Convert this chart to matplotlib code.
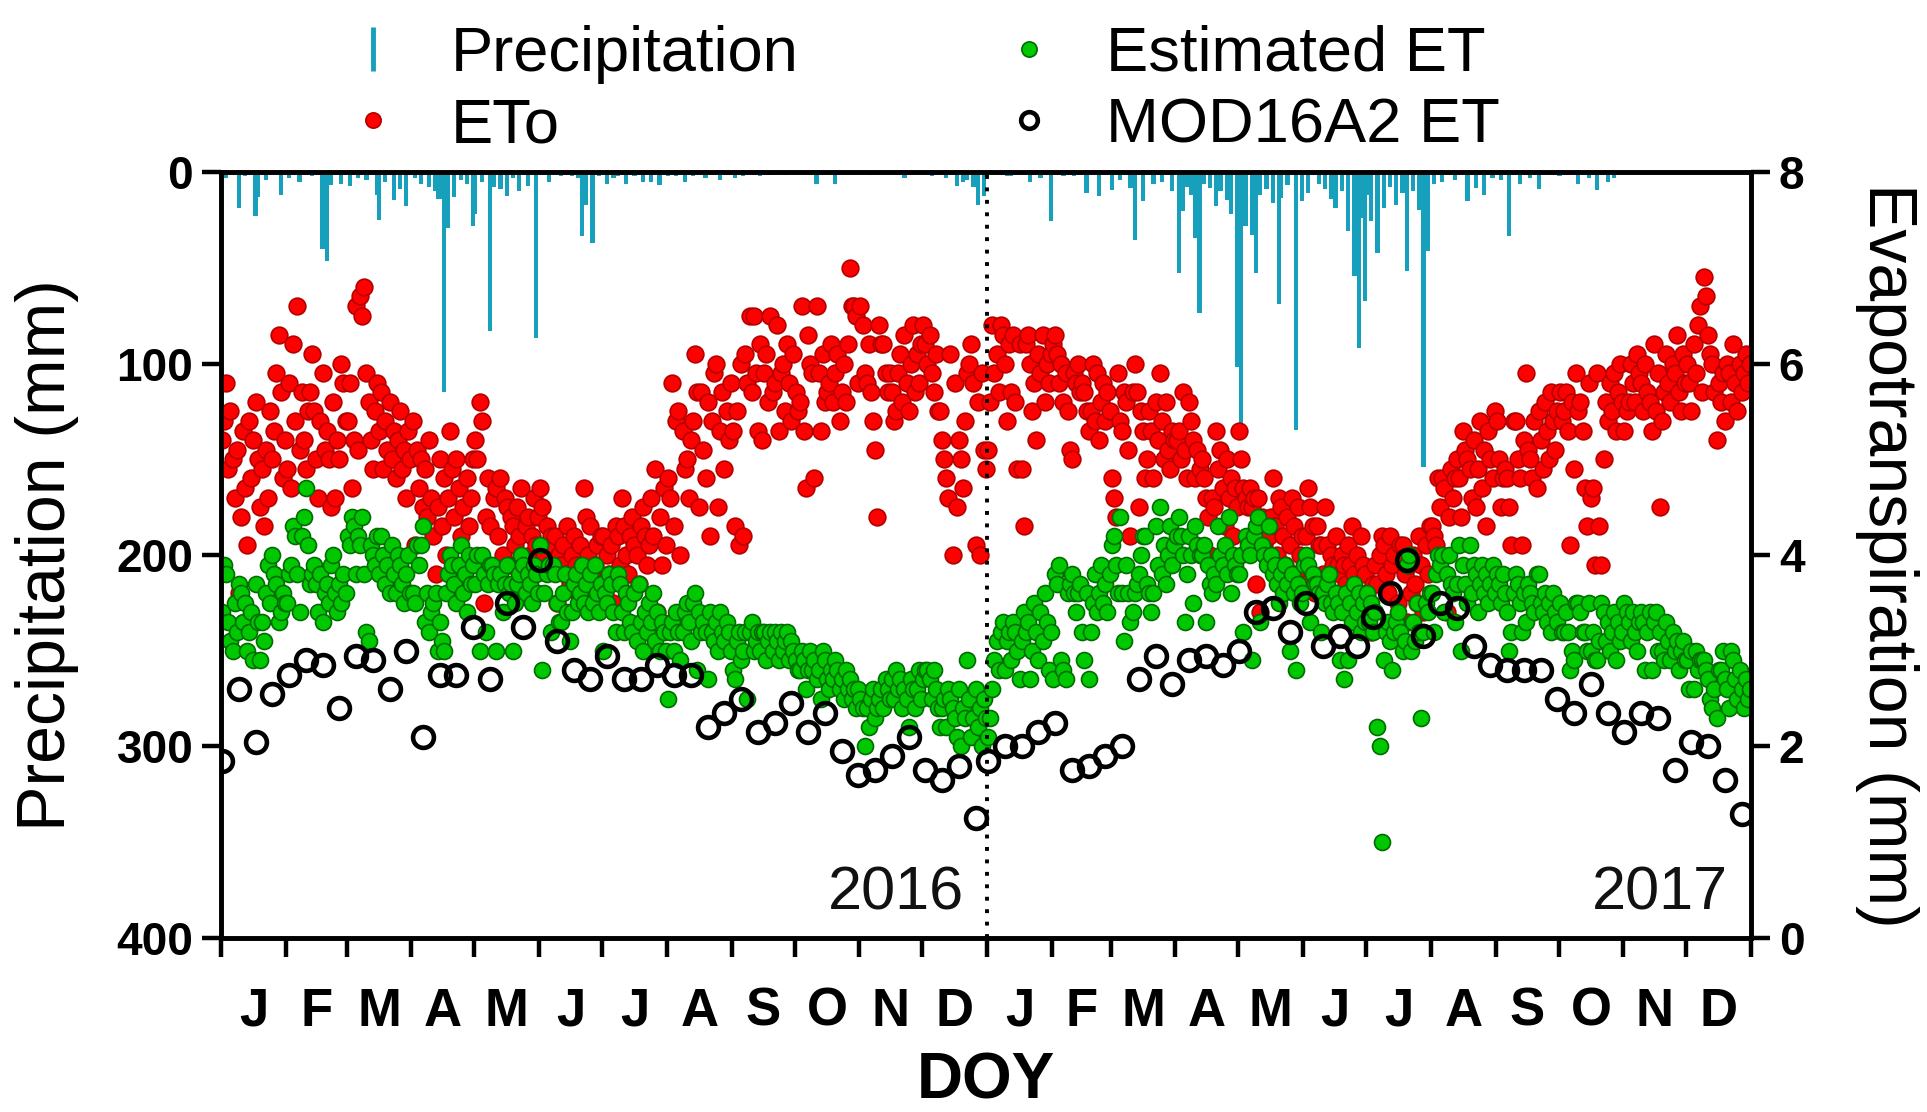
import numpy as np
import matplotlib
matplotlib.use("Agg")
import matplotlib.pyplot as plt
from matplotlib.lines import Line2D

plt.rcParams['font.family'] = ['Liberation Sans', 'DejaVu Sans']

# Reference evapotranspiration ETo (mm/day), one value per day
eto_2016 = [
    5.2,5.4,5.8,4.9,5.5,5.0,4.6,5.1,3.6,4.4,5.3,4.7,4.1,5.4,4.8,5.2,5.6,5.0,4.5,4.9,4.3,5.1,4.6,5.5,5.0,5.3,5.9,6.3,5.7,4.8,5.2,
    4.9,5.8,4.7,6.2,5.4,6.6,5.1,5.7,5.2,4.9,5.5,5.7,6.1,5.5,5.0,4.6,5.4,5.9,5.1,5.3,5.0,4.5,5.6,4.6,5.2,5.0,6.0,5.8,5.4,
    5.4,5.8,4.7,5.2,6.6,5.1,6.7,6.5,6.8,5.9,5.6,5.2,4.9,5.5,5.8,5.3,5.7,4.9,5.4,5.1,5.6,5.0,5.3,4.8,5.2,5.5,4.9,5.1,4.6,5.3,5.0,
    5.4,4.1,5.1,4.7,5.0,4.5,4.9,4.4,5.2,4.6,4.2,3.8,4.5,5.0,4.3,4.8,4.0,4.6,5.3,4.9,4.4,5.0,4.7,4.2,4.5,3.9,4.8,4.3,4.6,5.0,
    5.2,5.0,5.6,5.4,3.5,4.4,4.8,4.3,3.8,4.6,4.7,4.2,4.8,4.0,4.6,4.5,3.9,4.4,4.3,4.1,4.5,4.2,4.7,3.9,4.3,4.4,4.0,4.2,4.6,4.1,4.4,
    4.7,4.5,4.0,4.3,3.9,4.2,4.1,4.2,3.5,4.0,3.9,4.1,3.8,4.3,3.7,4.0,4.2,3.9,3.6,4.1,3.8,4.7,4.4,4.0,4.3,3.7,3.9,4.1,3.8,4.2,
    4.2,3.6,4.0,3.8,4.1,3.5,4.3,4.2,3.9,4.6,4.3,4.0,3.8,4.2,4.4,4.1,4.0,3.7,4.3,4.5,4.2,3.9,4.1,4.6,4.2,4.9,3.4,4.4,3.9,4.7,4.1,
    4.8,4.6,5.8,4.3,5.4,5.5,4.0,5.3,4.9,5.0,4.6,5.2,5.4,6.1,5.7,4.5,5.7,5.1,4.8,5.6,4.2,5.4,5.9,6.0,4.5,5.3,5.7,4.9,5.5,5.2,5.8,
    5.3,4.3,5.5,4.1,6.0,4.2,6.1,5.8,6.5,5.7,6.5,5.9,5.3,6.2,5.2,5.9,6.1,5.6,6.5,5.7,5.8,6.4,5.3,5.9,6.0,5.5,6.2,5.8,5.4,6.1,
    5.7,5.5,5.6,6.6,5.3,4.7,6.3,6.0,5.9,4.8,6.6,5.9,5.3,6.1,5.6,5.7,5.8,6.2,5.6,5.9,6.1,5.4,5.7,6.0,5.6,6.2,7.0,6.6,6.6,6.5,5.8,
    6.6,6.4,5.9,5.8,6.2,5.7,5.4,5.1,4.4,6.4,6.2,6.2,5.9,5.7,5.9,5.7,5.4,5.5,5.9,6.1,5.6,6.3,5.8,5.5,6.0,6.4,5.7,6.1,5.8,6.2,
    6.4,6.2,6.0,6.3,5.9,5.7,6.1,5.5,5.5,5.2,5.0,4.8,4.6,6.1,4.0,5.8,4.5,5.2,5.0,4.7,5.4,5.9,6.0,6.2,5.8,4.1,5.6,4.0,5.9,5.1,4.9,
]
eto_2017 = [
    5.1,5.6,6.4,5.9,6.1,5.7,6.4,6.3,6.0,5.4,6.2,5.7,6.3,5.6,4.9,6.2,4.9,4.3,6.2,6.3,6.0,5.5,5.8,5.2,6.1,5.9,6.3,5.6,6.0,5.8,6.1,
    6.2,6.3,6.1,5.8,6.0,5.6,5.9,5.5,5.1,5.0,5.9,5.8,6.0,5.7,5.8,5.7,5.5,5.3,5.5,6.0,5.4,5.9,5.2,5.6,5.8,5.4,5.7,5.5,
    4.8,4.6,4.4,5.9,5.4,5.3,5.7,5.6,5.1,4.2,5.7,6.0,5.7,4.5,5.5,5.3,4.8,5.0,5.5,5.3,4.8,5.6,5.2,5.9,5.4,5.0,5.6,5.1,4.9,5.3,5.2,
    5.2,5.3,5.0,5.7,5.1,4.8,5.6,5.4,5.2,4.8,5.1,4.9,5.0,4.8,4.6,4.4,4.0,4.6,4.5,5.3,4.9,5.1,4.7,4.3,5.0,4.6,4.8,4.2,4.7,4.5,
    5.3,5.0,4.7,4.6,4.5,4.7,4.5,4.6,3.7,4.6,3.4,4.4,4.1,4.2,4.2,4.4,4.8,4.3,4.0,4.6,4.5,4.2,3.9,4.4,4.1,4.6,4.3,3.8,4.5,4.0,4.2,
    3.7,4.2,4.7,4.5,4.3,3.6,4.3,4.1,4.1,3.8,4.5,4.1,3.5,4.0,3.9,4.2,3.9,3.8,4.0,3.9,3.7,4.1,3.9,4.3,3.8,4.0,3.6,4.2,3.9,3.8,
    3.6,3.4,3.2,3.7,3.9,3.7,4.0,4.2,4.1,3.8,3.6,4.2,3.9,4.0,3.2,3.5,4.1,4.1,3.8,3.3,3.9,3.6,4.0,3.7,3.5,4.2,3.9,3.4,4.1,3.8,4.3,
    4.3,4.2,4.1,4.8,4.5,4.8,4.7,3.4,4.4,4.9,4.6,4.8,5.0,4.8,4.4,5.3,5.1,5.0,4.9,4.6,5.2,4.5,4.9,5.4,4.7,5.1,4.3,5.3,5.0,4.8,5.5,
    5.4,5.0,4.5,4.8,4.9,4.8,4.5,4.1,5.4,5.4,5.0,4.8,4.1,5.2,5.9,5.1,5.0,4.8,5.4,4.7,5.5,5.2,4.9,5.6,5.3,5.0,5.7,5.4,5.1,5.5,
    5.7,5.4,5.5,5.7,5.3,4.1,5.6,4.9,5.9,5.5,5.6,5.3,4.7,4.3,5.8,4.6,4.7,3.9,5.9,4.3,3.9,5.0,5.6,5.4,5.8,5.5,5.9,5.3,5.7,6.0,5.6,
    5.3,5.5,5.6,6.0,5.8,5.6,6.1,5.9,5.8,5.5,6.0,5.7,5.6,5.3,6.2,5.5,5.9,4.5,5.4,5.7,6.1,5.8,5.6,6.0,5.9,6.3,5.7,5.5,6.1,5.8,
    6.0,5.8,5.5,6.2,5.9,6.4,6.6,5.7,6.9,6.7,6.3,6.1,6.0,5.7,5.2,5.8,5.6,5.9,5.4,6.0,5.9,5.6,6.2,5.8,5.5,6.0,5.7,5.9,6.1,5.8,6.0,
]

# Estimated actual ET (mm/day), one value per day
et_2016 = [
    3.4,3.9,3.8,3.3,3.1,3.0,3.5,3.2,3.7,3.6,3.3,3.5,3.0,3.2,3.4,2.9,3.7,3.3,2.9,3.3,3.1,3.6,3.9,3.5,4.0,3.8,3.7,3.3,3.4,3.6,3.5,
    3.5,3.8,3.9,4.3,4.2,3.8,3.4,4.2,4.4,4.7,4.1,3.7,3.8,3.9,3.7,3.4,3.8,3.3,3.6,3.7,3.5,3.9,4.0,3.6,3.4,3.7,3.5,3.8,3.6,
    4.2,4.1,4.4,4.3,3.8,4.2,4.1,4.4,3.8,3.2,3.1,4.1,4.0,3.9,4.2,3.8,4.2,4.0,3.7,3.9,3.6,4.1,3.8,3.6,4.0,3.9,3.7,3.5,3.8,4.0,3.6,
    3.6,3.5,4.1,3.9,4.1,4.3,3.3,3.6,3.2,3.4,3.5,3.6,3.0,3.3,3.1,3.0,3.6,3.8,4.0,3.9,3.7,3.5,3.9,4.1,3.6,3.8,3.4,4.0,3.7,3.9,
    3.7,4.0,3.0,4.0,3.8,3.2,3.7,3.9,3.9,3.8,3.0,3.7,3.8,3.4,3.7,3.9,3.6,3.7,3.0,3.5,3.7,3.8,4.0,3.9,3.6,3.8,3.7,3.5,3.9,3.8,3.6,
    4.1,2.8,3.6,3.8,3.9,3.2,3.9,3.8,3.5,3.3,3.3,3.6,3.8,3.4,3.1,3.4,3.7,3.8,3.5,3.6,3.9,3.5,3.7,3.4,3.8,3.5,3.9,3.6,3.4,3.7,
    3.0,3.6,3.5,3.8,3.7,3.4,3.2,3.8,3.7,3.4,3.2,3.6,3.5,3.3,3.2,3.6,3.1,3.7,3.3,3.0,3.4,3.2,3.5,3.3,3.6,3.1,3.4,3.0,3.3,3.2,3.0,
    2.5,3.2,3.3,3.0,3.4,3.2,2.9,3.2,3.4,3.5,3.3,3.1,3.5,3.6,2.8,3.4,3.2,3.3,3.2,2.7,3.4,3.2,3.1,3.3,3.0,3.4,3.2,3.1,3.3,3.2,3.0,
    2.8,2.7,3.1,3.2,2.9,3.0,3.2,2.5,3.2,3.3,3.0,3.1,3.2,3.0,3.2,3.2,2.9,3.1,3.2,3.0,3.2,3.1,2.9,3.2,3.0,3.1,3.2,2.9,3.1,3.0,
    2.9,2.8,2.8,3.0,2.9,2.6,2.8,3.0,2.8,2.9,2.7,2.8,2.5,3.0,2.9,2.7,2.6,2.8,2.7,2.9,2.8,2.6,2.7,2.5,2.8,2.6,2.7,2.5,2.6,2.4,2.6,
    2.5,2.4,2.0,2.4,2.2,2.5,2.6,2.3,2.4,2.5,2.6,2.4,2.7,2.6,2.5,2.7,2.5,2.8,2.6,2.7,2.4,2.6,2.5,2.2,2.7,2.6,2.4,2.6,2.8,2.5,
    2.7,2.8,2.8,2.7,2.5,2.8,2.6,2.4,2.2,2.4,2.5,2.2,2.6,2.5,2.4,2.3,2.1,2.6,2.0,2.4,2.3,2.9,2.5,2.1,2.3,2.6,2.2,2.4,2.0,2.5,2.3,
]
et_2017 = [
    2.1,2.3,2.6,2.9,3.1,2.8,3.2,3.3,2.8,3.1,3.2,2.9,3.3,3.2,3.0,2.7,3.1,3.4,3.2,3.3,2.7,3.0,3.5,3.2,2.9,3.4,3.1,3.6,3.3,2.8,3.2,
    2.7,3.8,3.7,3.9,2.9,2.8,2.7,3.6,3.7,3.8,3.6,3.4,3.6,3.7,3.2,2.9,3.6,2.7,3.2,3.5,3.8,3.4,3.6,3.9,3.5,3.7,3.4,3.8,
    4.1,4.2,3.9,3.6,4.4,3.6,3.1,3.9,3.6,3.3,3.4,3.6,3.7,3.8,4.0,4.2,4.2,3.7,3.6,3.4,3.6,4.3,3.9,4.5,3.8,4.1,3.7,4.0,4.3,3.9,4.1,
    4.2,4.4,4.2,4.0,3.3,3.8,4.2,4.0,3.5,4.3,4.1,4.0,4.0,4.1,3.3,3.9,3.7,3.6,3.8,3.7,4.3,4.0,3.9,4.1,3.8,4.4,3.6,4.0,3.9,3.8,
    3.8,4.0,3.2,4.2,4.1,4.0,2.9,4.2,4.3,4.4,3.3,4.1,4.0,3.9,4.3,4.0,3.8,3.9,3.7,3.5,3.8,3.6,3.9,3.7,3.0,3.8,3.6,2.8,3.7,3.5,3.6,
    3.9,4.0,3.9,3.3,3.8,3.7,3.7,3.6,3.2,3.6,3.5,3.7,3.8,3.5,3.4,3.6,3.5,2.9,3.4,2.7,3.6,2.9,3.5,3.3,3.7,3.4,3.6,3.2,3.5,3.3,
    3.6,3.3,3.5,3.2,3.4,2.2,2.0,1.0,2.9,3.2,3.3,3.1,2.8,3.2,3.3,3.4,3.2,3.0,3.1,3.9,4.0,3.0,3.3,3.1,3.5,3.2,2.3,3.2,3.5,3.4,3.6,
    3.6,3.2,3.8,4.0,3.9,4.0,3.4,3.8,4.0,3.7,3.6,3.3,3.7,4.1,3.0,3.9,3.7,3.5,4.1,3.6,3.9,3.8,3.4,3.7,3.9,3.6,3.8,3.5,3.7,3.9,3.6,
    3.8,3.7,3.5,3.8,3.6,3.4,3.0,3.2,3.6,3.8,3.7,3.5,3.2,3.6,3.3,3.7,3.6,3.5,3.4,3.8,3.8,3.5,3.4,3.6,3.3,3.5,3.2,3.6,3.4,3.3,
    3.5,3.2,3.2,3.4,3.2,2.8,3.0,2.9,3.5,3.5,3.4,3.2,3.2,3.0,3.5,3.0,3.2,2.9,2.9,3.1,3.5,3.4,3.1,3.3,3.0,3.2,3.4,2.9,3.3,3.1,3.2,
    3.5,3.4,3.3,3.1,3.4,3.2,3.0,3.3,3.4,3.3,2.8,3.2,3.4,2.8,3.3,3.4,3.0,3.2,3.0,2.9,3.3,3.1,2.9,3.2,3.0,3.1,2.8,3.0,3.1,2.9,
    2.9,2.6,3.0,2.6,3.0,2.8,2.9,2.9,2.9,2.8,2.7,2.5,2.4,2.6,2.3,2.8,2.8,3.0,2.7,2.6,2.4,3.0,2.9,2.7,2.5,2.8,2.6,2.4,2.7,2.5,2.6,
]

# MOD16A2 8-day composites (start DOY of each period)
mod16_doy = [1, 9, 17, 25, 33, 41, 49, 57, 65, 73, 81, 89, 97, 105, 113, 121,
             129, 137, 145, 153, 161, 169, 177, 185, 193, 201, 209, 217, 225,
             233, 241, 249, 257, 265, 273, 281, 289, 297, 305, 313, 321, 329,
             337, 345, 353, 361]
mod16_2016 = [1.85, 2.6, 2.05, 2.55, 2.75, 2.9, 2.85, 2.4, 2.95, 2.9, 2.6, 3.0,
              2.1, 2.75, 2.75, 3.25, 2.7, 3.5, 3.25, 3.95, 3.1, 2.8, 2.7, 2.95,
              2.7, 2.7, 2.85, 2.75, 2.75, 2.2, 2.35, 2.5, 2.15, 2.25, 2.45, 2.15,
              2.35, 1.95, 1.7, 1.75, 1.9, 2.1, 1.75, 1.65, 1.8, 1.25]
mod16_2017 = [1.85, 2.0, 2.0, 2.15, 2.25, 1.75, 1.8, 1.9, 2.0, 2.7, 2.95, 2.65,
              2.9, 2.95, 2.85, 3.0, 3.4, 3.45, 3.2, 3.5, 3.05, 3.15, 3.05, 3.35,
              3.6, 3.95, 3.15, 3.5, 3.45, 3.05, 2.85, 2.8, 2.8, 2.8, 2.5, 2.35,
              2.65, 2.35, 2.15, 2.35, 2.3, 1.75, 2.05, 2.0, 1.65, 1.3]

# Daily precipitation (DOY, mm), rain days only
rain_2016_doy = [3, 9, 12, 17, 18, 22, 29, 33, 38, 44, 49, 51, 53, 58, 62, 66, 70,
                 75, 76, 79, 83, 86, 89, 93, 96, 100, 103, 104, 105, 106, 107,
                 109, 112, 115, 118, 121, 122, 125, 129, 131, 134, 137, 140, 143,
                 147, 151, 157, 163, 168, 171, 173, 175, 178, 181, 185, 188, 190,
                 194, 198, 202, 206, 210, 214, 218, 222, 226, 232, 239, 246, 250,
                 258, 263, 270, 285, 294, 300, 311, 327, 340, 347, 352, 355, 357,
                 360, 362, 365]
rain_2016_mm = [3, 18.8, 2, 23, 13, 4, 12, 3, 5, 2, 40, 46.6, 7, 6, 7.5, 3, 4,
                12, 25, 5, 14.5, 9, 18, 3, 6, 8, 10, 14, 14, 12, 115,
                29, 13, 4, 6, 28, 22, 5, 83, 8, 9, 12.7, 3, 10,
                7.5, 86.7, 5, 2, 2, 3, 33.6, 17, 37, 2, 6, 3, 2,
                6, 2, 5, 5, 7, 2, 2, 5, 2, 3, 4, 3, 2,
                2.3, 1.5, 1.5, 6, 6, 1.5, 1.5, 3, 2, 3, 7.5, 5, 4,
                8, 17, 12.7]
rain_2017_doy = [10, 12, 21, 26, 31, 37, 42, 48, 54, 60, 64, 69, 71, 75, 80, 84,
                 89, 92, 94, 96, 98, 100, 102, 104, 107, 110, 112, 115, 117, 120,
                 122, 124, 127, 129, 131, 134, 137, 140, 141, 144, 148, 151, 154,
                 159, 162, 165, 167, 170, 173, 176, 178, 179, 181, 182, 184, 187,
                 190, 193, 196, 199, 201, 204, 207, 209, 211, 214, 218, 224, 230,
                 234, 238, 242, 246, 250, 255, 260, 264, 274, 283, 288, 292, 297,
                 300, 314, 334]
rain_2017_mm = [2, 2, 5, 3, 25.8, 2, 2, 11, 12.7, 9.2, 4, 8.4, 35.3, 15, 6, 5,
                10, 52.7, 20.5, 8, 12, 34.5, 73.6, 6, 8.4, 18, 10, 14.5, 22, 102,
                134.8, 28, 32.7, 52.7, 12, 9, 16, 69, 13.6, 7, 134.8, 15, 11,
                6, 9, 14, 18.8, 10, 31, 54.5, 92, 24, 67.5, 12, 25.8, 42.3,
                18.8, 8, 17, 11, 51.8, 10, 20, 154, 41.4, 6, 5, 4, 15,
                8.4, 12, 3, 4, 33.6, 6.5, 3, 9, 2, 6, 3, 9.2, 5,
                3, 1.5, 1.5]

month_letters = ['J', 'F', 'M', 'A', 'M', 'J', 'J', 'A', 'S', 'O', 'N', 'D']
month_len_2016 = [31, 29, 31, 30, 31, 30, 31, 31, 30, 31, 30, 31]
month_len_2017 = [31, 28, 31, 30, 31, 30, 31, 31, 30, 31, 30, 31]

c_rain = '#17a0bc'
c_eto, c_eto_edge = '#ff0000', '#b30000'
c_et, c_et_edge = '#00c800', '#006b00'

# continuous day axis over the two years
n16 = sum(month_len_2016)
days = np.arange(1, n16 + sum(month_len_2017) + 1) - 0.5
eto = np.array(eto_2016 + eto_2017)
et = np.array(et_2016 + et_2017)
mod_x = np.array(mod16_doy + [d + n16 for d in mod16_doy]) - 0.5
mod_v = np.array(mod16_2016 + mod16_2017)
rain_x = np.array(rain_2016_doy + [d + n16 for d in rain_2017_doy]) - 0.5
rain_v = np.array(rain_2016_mm + rain_2017_mm)

fig = plt.figure(figsize=(19.27, 11.12), dpi=100)
ax = fig.add_axes([0.1147, 0.1565, 0.794, 0.6888])
ax2 = ax.twinx()

ax.bar(rain_x, rain_v, width=2.0, color=c_rain, linewidth=0)
ax.set_ylim(400, 0)
ax.set_xlim(0, len(days))

ax2.plot(days, eto, 'o', ms=12, mfc=c_eto, mec=c_eto_edge, mew=1.2, ls='none')
ax2.plot(days, et, 'o', ms=11.5, mfc=c_et, mec=c_et_edge, mew=1.2, ls='none')
ax2.plot(mod_x, mod_v, 'o', ms=15, mfc='none', mec='black', mew=3.3, ls='none')
ax2.axvline(n16, color='black', lw=2.8, ls=(0, (1, 2.2)))
ax2.set_ylim(0, 8)

ax2.text(355, 0.46, '2016', fontsize=44, ha='right', va='center', color='#111111')
ax2.text(720, 0.46, '2017', fontsize=44, ha='right', va='center', color='#111111')

# month boundaries as ticks, letters centred in each month
edges = np.cumsum([0] + month_len_2016 + month_len_2017)
mids = (edges[:-1] + edges[1:]) / 2
ax.set_xticks(edges)
ax.set_xticklabels([])
ax.set_xticks(mids, minor=True)
ax.set_xticklabels(month_letters * 2, minor=True, fontsize=38, fontweight='bold')
ax.tick_params(axis='x', which='major', direction='out', length=14, width=3.2)
ax.tick_params(axis='x', which='minor', length=0, pad=35)

ax.set_yticks([0, 100, 200, 300, 400])
ax.set_yticklabels(['0', '100', '200', '300', '400'], fontsize=33, fontweight='bold')
ax.tick_params(axis='y', direction='out', length=14, width=3.2, pad=6)
ax2.set_yticks([0, 2, 4, 6, 8])
ax2.set_yticklabels(['0', '2', '4', '6', '8'], fontsize=33, fontweight='bold')
ax2.tick_params(axis='y', direction='out', length=14, width=3.2, pad=6)

for a in (ax, ax2):
    for s in a.spines.values():
        s.set_linewidth(3.3)

ax.set_ylabel('Precipitation (mm)', fontsize=49, va='center')
ax.yaxis.set_label_coords(-0.114, 0.5)
ax2.set_ylabel('Evapotranspiration (mm)', fontsize=49, rotation=270, va='center')
ax2.yaxis.set_label_coords(1.089, 0.5)
ax.set_xlabel('DOY', fontsize=46, fontweight='bold', va='center')
ax.xaxis.set_label_coords(0.5, -0.188)

handles = [
    Line2D([], [], marker='|', ms=32, mew=3.5, color=c_rain, ls='none'),
    Line2D([], [], marker='o', ms=11, mfc=c_eto, mec=c_eto_edge, mew=1.2, ls='none'),
    Line2D([], [], marker='o', ms=11, mfc=c_et, mec=c_et_edge, mew=1.2, ls='none'),
    Line2D([], [], marker='o', ms=12, mfc='none', mec='black', mew=3.3, ls='none'),
]
labels = ['Precipitation', 'ETo', 'Estimated ET', 'MOD16A2 ET']
fig.legend(handles, labels, loc='upper left', bbox_to_anchor=(0.161, 1.006),
           ncol=2, frameon=False, fontsize=45.5, handlelength=1.0,
           handletextpad=0.72, columnspacing=3.15, labelspacing=0.2,
           borderpad=0.0)

fig.savefig('out.png', dpi=100)
